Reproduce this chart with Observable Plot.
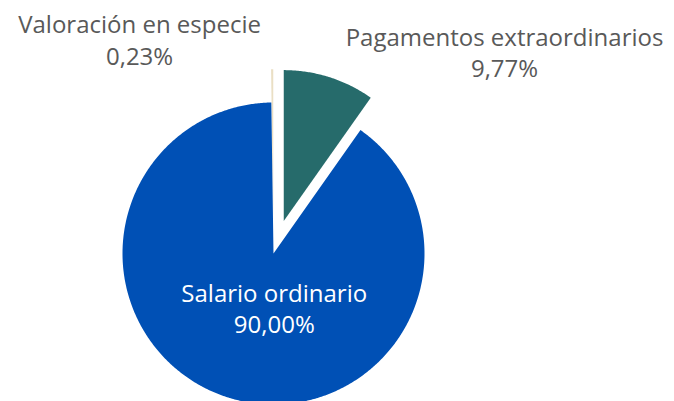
<!DOCTYPE html>
<html><head><meta charset="utf-8">
<script src="https://cdn.jsdelivr.net/npm/d3@7"></script>
<script src="https://cdn.jsdelivr.net/npm/@observablehq/plot@0.6"></script>
<style>body{margin:0;background:#fff;overflow:hidden} svg{display:block}</style>
</head><body><div id="chart"></div>
<script>
const categories = ["Valoración en especie", "Pagamentos extraordinarios", "Salario ordinario"];
const values = [0.23, 9.77, 90.00];
const valueLabels = ["0,23%", "9,77%", "90,00%"];
const colors = ["#EADFC4", "#266B6B", "#0050B5"];

// layout (radius units)
const explode = [0.22, 0.225, 0];
const labelAnchors = [[-0.887, 1.42], [1.53, 1.34], [0.005, -0.36]];
const labelColors = ["#595959", "#595959", "#ffffff"];

const total = d3.sum(values);
const arcs = d3.pie().sort(null).value(d => d)
  .startAngle(-2 * Math.PI * values[0] / total)
  .endAngle(2 * Math.PI - 2 * Math.PI * values[0] / total)(values);

const poly = [];
arcs.forEach((a, i) => {
  const mid = (a.startAngle + a.endAngle) / 2;
  const ox = explode[i] * Math.sin(mid), oy = explode[i] * Math.cos(mid);
  poly.push({slice: categories[i], x: ox, y: oy});
  const n = Math.max(2, Math.ceil((a.endAngle - a.startAngle) / (Math.PI / 360)));
  for (let k = 0; k <= n; k++) {
    const t = a.startAngle + (a.endAngle - a.startAngle) * k / n;
    poly.push({slice: categories[i], x: ox + Math.sin(t), y: oy + Math.cos(t)});
  }
  poly.push({slice: categories[i], x: ox, y: oy});
});

const labels = categories.map((c, i) => ({
  text: c + "\n" + valueLabels[i], x: labelAnchors[i][0], y: labelAnchors[i][1], color: labelColors[i]
}));

const cx = 273, cy = 253, r = 151;
const chart = Plot.plot({
  width: 674, height: 401, margin: 0,
  style: {fontFamily: "'Open Sans', sans-serif", background: "#fff", overflow: "hidden"},
  x: {domain: [-1, 1], range: [cx - r, cx + r], axis: null},
  y: {domain: [-1, 1], range: [cy + r, cy - r], axis: null},
  color: {domain: categories, range: colors},
  marks: [
    Plot.line(poly, {x: "x", y: "y", z: "slice", fill: "slice", stroke: "none", curve: "linear"}),
    Plot.text(labels, {x: "x", y: "y", text: "text", fill: "color", fontSize: 24, lineHeight: 1.3, textAnchor: "middle", lineAnchor: "middle"})
  ]
});
document.getElementById("chart").append(chart);
</script>
</body></html>
